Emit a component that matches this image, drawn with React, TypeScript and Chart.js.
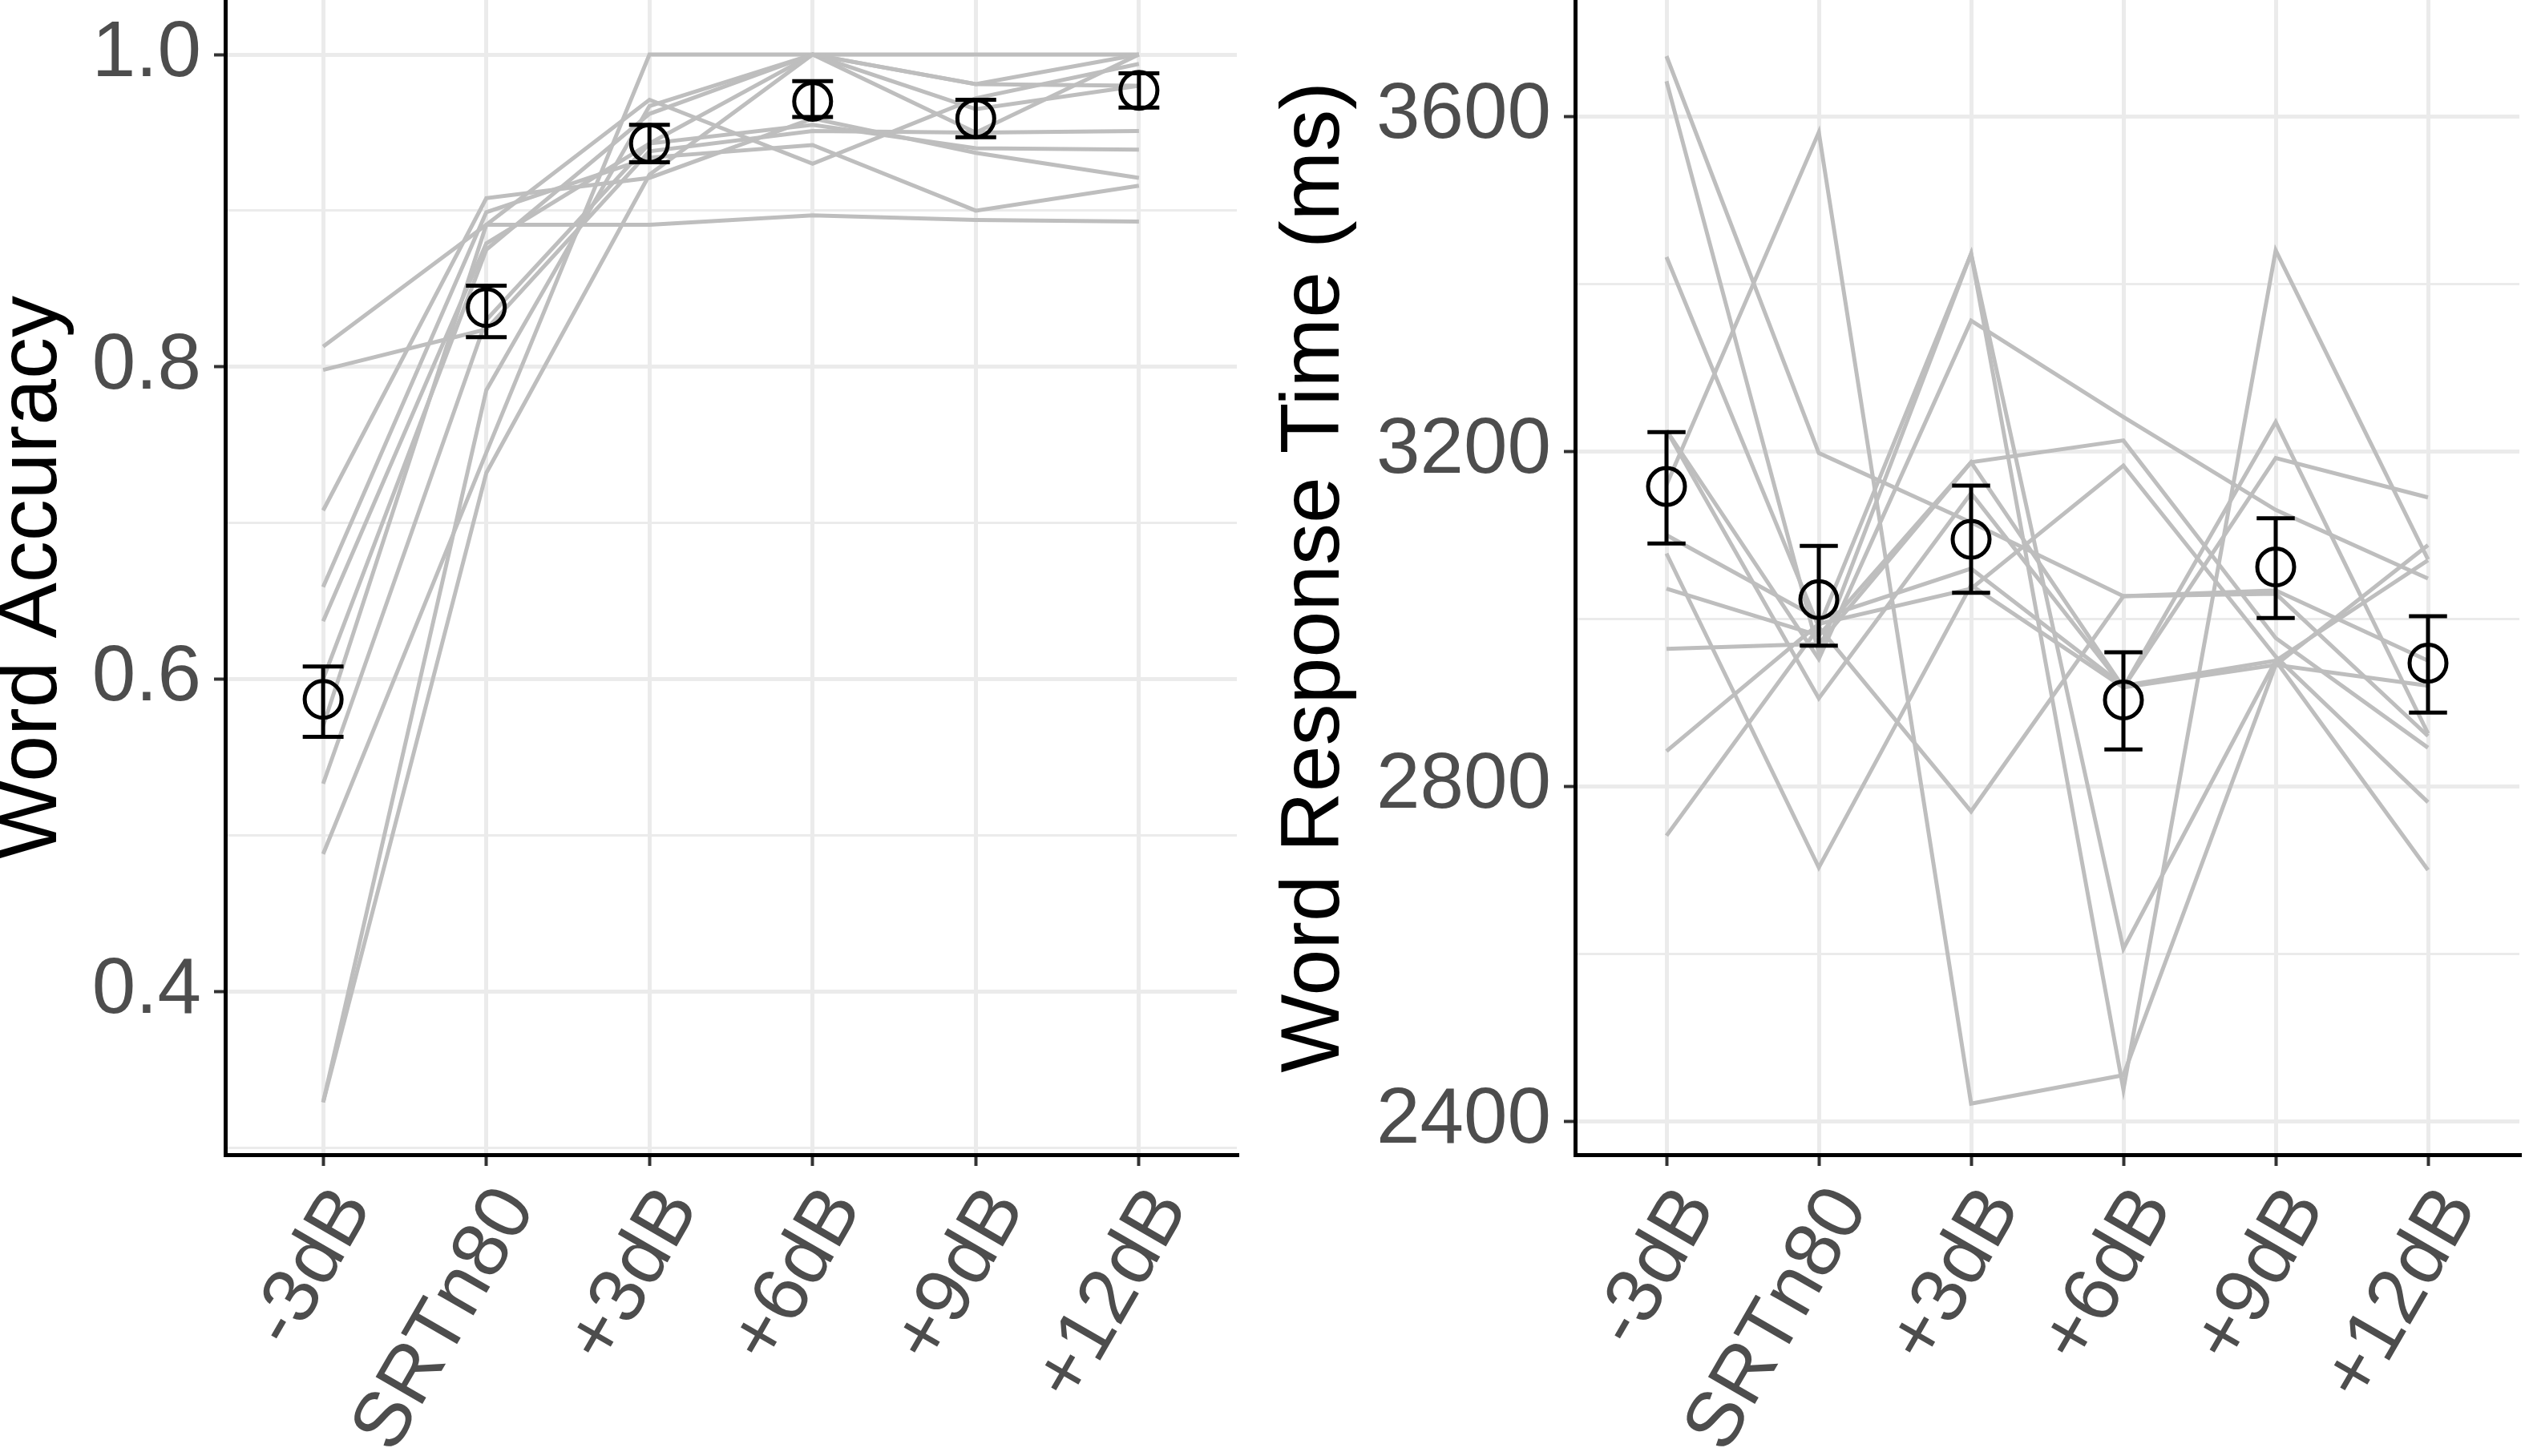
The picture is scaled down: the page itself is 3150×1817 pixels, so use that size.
import React, { useEffect, useRef } from "react";
import { Chart, registerables } from "chart.js";

Chart.register(...registerables);

const conditions = ["-3dB", "SRTn80", "+3dB", "+6dB", "+9dB", "+12dB"];

// word accuracy, one row per listener
const accuracySubjects: number[][] = [
  [0.813, 0.891, 0.891, 0.897, 0.894, 0.893],
  [0.798, 0.824, 0.938, 0.951, 0.95, 0.951],
  [0.708, 0.908, 0.921, 0.959, 0.937, 0.921],
  [0.659, 0.899, 0.934, 0.942, 0.9, 0.916],
  [0.637, 0.879, 0.943, 0.955, 0.94, 0.939],
  [0.6, 0.875, 0.962, 1.0, 0.981, 0.98],
  [0.57, 0.891, 0.971, 0.93, 0.972, 0.994],
  [0.533, 0.83, 0.943, 1.0, 0.981, 1.0],
  [0.488, 0.745, 1.0, 1.0, 1.0, 1.0],
  [0.329, 0.785, 0.967, 1.0, 0.965, 0.98],
  [0.329, 0.732, 0.923, 1.0, 0.95, 1.0],
];
const accuracyMean = [0.587, 0.838, 0.943, 0.97, 0.959, 0.977];
const accuracyLow = [0.563, 0.819, 0.931, 0.96, 0.947, 0.966];
const accuracyHigh = [0.608, 0.852, 0.955, 0.983, 0.971, 0.988];
const accuracyGrid = [0.3, 0.4, 0.5, 0.6, 0.7, 0.8, 0.9, 1.0];
const accuracyLabels = [0.4, 0.6, 0.8, 1.0];

// word response time (ms), one row per listener
const rtSubjects: number[][] = [
  [3672, 3198, 3115, 3027, 3034, 2950],
  [3642, 2960, 3436, 2606, 2950, 2700],
  [3432, 2990, 3436, 2438, 3440, 3071],
  [3160, 3581, 2421, 2455, 2945, 3088],
  [3225, 2952, 3356, 3241, 3130, 3048],
  [3078, 2703, 3040, 2918, 3235, 2863],
  [3036, 2980, 3187, 2918, 3192, 3145],
  [2964, 2970, 3187, 3213, 2977, 2846],
  [2842, 2994, 3036, 3183, 2955, 2781],
  [2741, 2990, 2770, 3027, 3030, 2860],
  [3225, 2905, 3150, 2918, 2945, 2920],
  [3100, 3000, 3060, 2920, 2950, 3070],
];
const rtMean = [3158, 3023, 3095, 2903, 3062, 2947];
const rtLow = [3090, 2968, 3031, 2844, 3001, 2888];
const rtHigh = [3223, 3087, 3159, 2960, 3120, 3003];
const rtGrid = [2400, 2600, 2800, 3000, 3200, 3400, 3600];
const rtLabels = [2400, 2800, 3200, 3600];

const FONT = "'Liberation Sans', Arial, Helvetica, sans-serif";
const TICK_SIZE = 98;
const TITLE_SIZE = 104;

const errorBarPlugin = {
  id: "errorBars",
  afterDatasetsDraw(chart: any, _args: any, opts: any) {
    const { ctx } = chart;
    const x = chart.scales.x;
    const y = chart.scales.y;
    ctx.save();
    ctx.strokeStyle = "#000000";
    ctx.lineWidth = 5;
    opts.low.forEach((lo: number, i: number) => {
      const hi = opts.high[i];
      const cx = x.getPixelForValue(i);
      const x0 = x.getPixelForValue(i - 0.125);
      const x1 = x.getPixelForValue(i + 0.125);
      const yl = y.getPixelForValue(lo);
      const yh = y.getPixelForValue(hi);
      ctx.beginPath();
      ctx.moveTo(cx, yl);
      ctx.lineTo(cx, yh);
      ctx.moveTo(x0, yl);
      ctx.lineTo(x1, yl);
      ctx.moveTo(x0, yh);
      ctx.lineTo(x1, yh);
      ctx.stroke();
    });
    ctx.restore();
  },
};

type Panel = {
  subjects: number[][];
  mean: number[];
  low: number[];
  high: number[];
  grid: number[];
  labels: number[];
  yMin: number;
  yMax: number;
  xMax: number;
  title: string;
  axisWidth: number;
  titlePad: number;
  rightPad: number;
  fmt: (v: number) => string;
};

function makeConfig(p: Panel): any {
  const isMajor = (v: number) => p.labels.includes(v);
  return {
    type: "line",
    data: {
      datasets: [
        {
          data: p.mean.map((v, i) => ({ x: i, y: v })),
          showLine: false,
          pointRadius: 23,
          pointBorderWidth: 5,
          pointBorderColor: "#000000",
          pointBackgroundColor: "rgba(0,0,0,0)",
          order: 1,
        },
        ...p.subjects.map((row) => ({
          data: row.map((v, i) => ({ x: i, y: v })),
          borderColor: "#BEBEBE",
          borderWidth: 5,
          pointRadius: 0,
          fill: false,
          tension: 0,
          order: 2,
        })),
      ],
    },
    options: {
      animation: false,
      responsive: false,
      events: [],
      layout: { autoPadding: false, padding: { left: 0, top: 0, right: p.rightPad, bottom: 0 } },
      plugins: {
        legend: { display: false },
        tooltip: { enabled: false },
        errorBars: { low: p.low, high: p.high },
      },
      scales: {
        x: {
          type: "linear",
          min: -0.6,
          max: p.xMax,
          afterBuildTicks: (s: any) => {
            s.ticks = conditions.map((_, i) => ({ value: i }));
          },
          afterFit: (s: any) => {
            s.height = 376;
            s.paddingLeft = 0;
            s.paddingRight = 0;
          },
          border: { display: true, color: "#000000", width: 5 },
          grid: {
            color: "#EBEBEB",
            lineWidth: 5,
            tickColor: "#333333",
            tickLength: 14,
            tickWidth: 4,
          },
          ticks: {
            autoSkip: false,
            minRotation: 60,
            maxRotation: 60,
            labelOffset: 39,
            padding: 8,
            color: "#4D4D4D",
            font: { family: FONT, size: TICK_SIZE },
            callback: (v: any) => conditions[Number(v)] ?? "",
          },
        },
        y: {
          type: "linear",
          min: p.yMin,
          max: p.yMax,
          afterBuildTicks: (s: any) => {
            s.ticks = p.grid.map((v) => ({ value: v }));
          },
          afterFit: (s: any) => {
            s.width = p.axisWidth;
            s.paddingTop = 0;
            s.paddingBottom = 0;
          },
          border: { display: true, color: "#000000", width: 5 },
          grid: {
            color: "#EBEBEB",
            lineWidth: (c: any) => (c.tick && isMajor(c.tick.value) ? 5 : 3),
            tickColor: (c: any) => (c.tick && isMajor(c.tick.value) ? "#333333" : "rgba(0,0,0,0)"),
            tickLength: 14,
            tickWidth: 4,
          },
          ticks: {
            padding: 16,
            color: "#4D4D4D",
            font: { family: FONT, size: TICK_SIZE },
            callback: (v: any) => (isMajor(Number(v)) ? p.fmt(Number(v)) : ""),
          },
          title: {
            display: true,
            text: p.title,
            color: "#000000",
            font: { family: FONT, size: TITLE_SIZE, lineHeight: 0.8 },
            padding: { top: p.titlePad, bottom: 0 },
          },
        },
      },
    },
    plugins: [errorBarPlugin],
  };
}

const App: React.FC = () => {
  const leftRef = useRef<HTMLCanvasElement | null>(null);
  const rightRef = useRef<HTMLCanvasElement | null>(null);

  useEffect(() => {
    const charts: Chart[] = [];
    if (leftRef.current) {
      charts.push(
        new Chart(
          leftRef.current,
          makeConfig({
            subjects: accuracySubjects,
            mean: accuracyMean,
            low: accuracyLow,
            high: accuracyHigh,
            grid: accuracyGrid,
            labels: accuracyLabels,
            yMin: 0.2954,
            yMax: 1.0349,
            xMax: 5.6,
            title: "Word Accuracy",
            axisWidth: 281,
            titlePad: 0,
            rightPad: 32,
            fmt: (v) => v.toFixed(1),
          })
        )
      );
    }
    if (rightRef.current) {
      charts.push(
        new Chart(
          rightRef.current,
          makeConfig({
            subjects: rtSubjects,
            mean: rtMean,
            low: rtLow,
            high: rtHigh,
            grid: rtGrid,
            labels: rtLabels,
            yMin: 2360,
            yMax: 3739,
            xMax: 5.6,
            title: "Word Response Time (ms)",
            axisWidth: 390,
            titlePad: 25,
            rightPad: 7,
            fmt: (v) => String(v),
          })
        )
      );
    }
    return () => {
      charts.forEach((c) => c.destroy());
    };
  }, []);

  return (
    <div style={{ position: "absolute", left: 0, top: 0, width: 3150, height: 1817, background: "#ffffff" }}>
      <canvas
        ref={leftRef}
        width={1575}
        height={1817}
        style={{ position: "absolute", left: 0, top: 0, width: 1575, height: 1817 }}
      />
      <canvas
        ref={rightRef}
        width={1575}
        height={1817}
        style={{ position: "absolute", left: 1575, top: 0, width: 1575, height: 1817 }}
      />
    </div>
  );
};

export default App;
